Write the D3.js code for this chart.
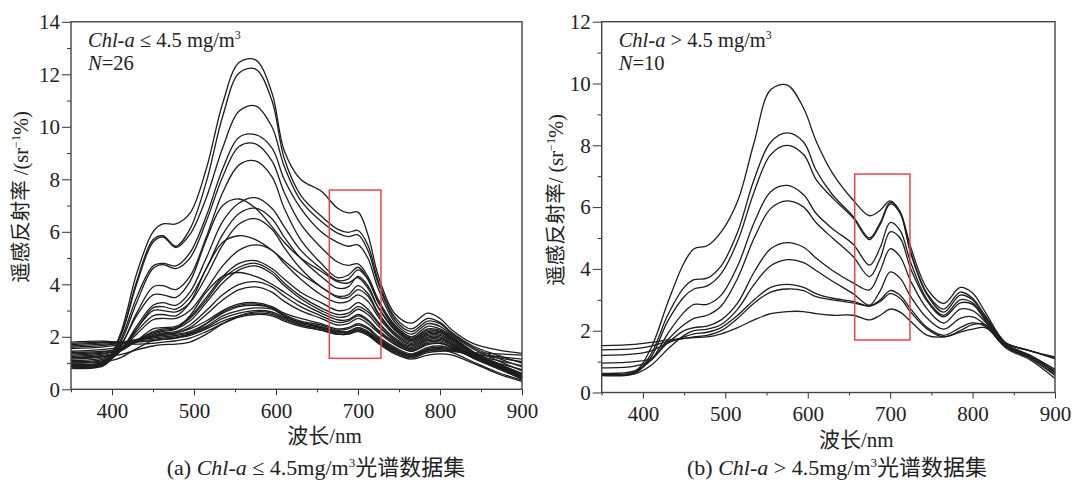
<!DOCTYPE html>
<html>
<head>
<meta charset="utf-8">
<script src="https://cdn.jsdelivr.net/npm/d3@7"></script>
<style>
  body { margin: 0; background: #fff; }
  text { font-family: "Liberation Serif", "Times New Roman", "Noto Sans CJK SC", serif; fill: #222; }
</style>
</head>
<body>
<div id="chart"></div>
<script>
var wavelengths = [350, 390, 410, 430, 450, 462, 478, 495, 515, 535, 555, 575, 595, 610, 630,
                   655, 675, 688, 700, 712, 725, 745, 765, 785, 800, 815, 840, 870, 900];

// (a) Chl-a <= 4.5 mg/m3, 26 spectra
var leftSpectra = [
  [0.85,0.95,2.1,4.4,6.0,6.3,6.3,6.7,8.4,10.9,12.45,12.55,11.3,9.1,8.0,7.55,6.9,6.72,6.75,5.9,4.3,2.88,2.52,2.9,2.7,2.25,1.75,1.5,1.37],
  [0.9,1.0,2.0,4.1,5.7,5.85,5.45,6.1,7.9,10.4,12.05,12.2,11.0,8.8,7.4,6.6,6.1,5.98,6.05,5.5,4.1,2.75,2.3,2.7,2.55,2.15,1.65,1.3,1.0],
  [0.95,1.05,2.0,4.0,5.6,5.8,5.4,5.9,7.3,9.2,10.6,10.8,10.0,8.5,7.2,6.4,5.95,5.82,5.88,5.3,4.0,2.65,2.2,2.6,2.5,2.1,1.6,1.2,0.85],
  [0.9,1.0,1.85,3.5,4.7,4.8,4.7,5.2,6.6,8.4,9.6,9.7,9.2,8.0,6.9,6.0,5.6,5.45,5.5,5.0,3.8,2.55,2.1,2.5,2.4,2.05,1.55,1.1,0.7],
  [0.85,0.95,1.75,3.3,4.6,4.75,4.6,5.0,6.4,8.1,9.25,9.35,8.7,7.5,6.3,5.4,4.85,4.72,4.78,4.3,3.4,2.45,2.0,2.4,2.3,2.0,1.45,1.0,0.6],
  [0.8,0.9,1.6,2.9,3.9,3.95,3.8,4.3,5.8,7.5,8.55,8.7,8.1,6.9,5.7,4.8,4.25,4.35,4.65,4.2,3.3,2.4,1.95,2.3,2.25,1.95,1.4,0.95,0.5],
  [0.95,1.05,1.65,2.8,3.6,3.6,3.5,4.1,5.7,7.0,7.25,6.9,6.2,5.6,5.0,4.5,4.1,4.05,4.25,3.85,3.1,2.3,1.9,2.2,2.2,1.9,1.4,0.95,0.55],
  [0.9,1.0,1.45,2.4,3.2,3.3,3.2,3.7,5.0,6.4,7.1,7.3,6.9,6.2,5.3,4.6,4.15,4.2,4.55,4.2,3.3,2.35,1.9,2.25,2.2,1.95,1.4,0.9,0.5],
  [1.0,1.1,1.45,2.3,3.1,3.15,3.05,3.5,4.6,5.9,6.7,6.9,6.5,5.8,5.0,4.3,3.85,3.9,4.3,3.95,3.1,2.25,1.85,2.15,2.15,1.9,1.35,0.9,0.45],
  [1.05,1.15,1.5,2.3,3.0,3.0,2.95,3.3,4.3,5.5,6.3,6.5,6.1,5.4,4.6,3.9,3.55,3.6,3.95,3.65,2.9,2.15,1.8,2.1,2.1,1.85,1.3,0.85,0.45],
  [1.1,1.2,1.5,2.2,2.8,2.85,2.8,3.3,4.6,5.6,5.85,5.7,5.3,4.9,4.4,3.9,3.5,3.5,3.8,3.55,2.85,2.1,1.75,2.05,2.05,1.8,1.3,0.85,0.4],
  [1.15,1.25,1.5,2.1,2.65,2.7,2.7,3.0,3.8,4.7,5.3,5.5,5.3,4.8,4.2,3.6,3.3,3.35,3.6,3.35,2.75,2.05,1.7,2.0,2.0,1.75,1.25,0.85,0.4],
  [1.2,1.3,1.45,1.85,2.3,2.35,2.4,2.75,3.5,4.3,4.8,4.9,4.6,4.2,3.7,3.3,3.0,3.05,3.3,3.05,2.55,1.95,1.65,1.95,1.95,1.7,1.2,0.8,0.4],
  [1.25,1.35,1.5,1.85,2.2,2.3,2.35,2.7,3.4,4.2,4.65,4.8,4.5,4.05,3.55,3.1,2.85,2.9,3.15,2.95,2.5,1.9,1.6,1.9,1.9,1.7,1.25,0.85,0.45],
  [1.3,1.38,1.5,1.85,2.15,2.25,2.3,2.6,3.3,4.05,4.55,4.7,4.4,3.95,3.45,3.0,2.75,2.8,3.05,2.85,2.4,1.85,1.55,1.85,1.85,1.65,1.2,0.8,0.4],
  [1.4,1.45,1.55,1.85,2.1,2.2,2.3,2.8,3.7,4.3,4.45,4.3,4.0,3.7,3.3,2.9,2.65,2.65,2.85,2.65,2.25,1.8,1.5,1.8,1.8,1.6,1.2,0.85,0.45],
  [1.35,1.42,1.55,1.8,2.05,2.15,2.2,2.45,3.0,3.6,4.0,4.1,3.9,3.55,3.15,2.8,2.55,2.6,2.8,2.6,2.2,1.75,1.45,1.75,1.75,1.6,1.25,0.9,0.5],
  [1.45,1.52,1.62,1.85,2.0,2.1,2.15,2.35,2.85,3.4,3.8,3.9,3.7,3.35,3.0,2.7,2.45,2.5,2.7,2.5,2.15,1.7,1.45,1.7,1.75,1.6,1.25,0.9,0.5],
  [1.55,1.62,1.7,1.88,2.02,2.1,2.15,2.3,2.6,3.0,3.25,3.3,3.15,2.9,2.7,2.5,2.3,2.35,2.5,2.35,2.0,1.6,1.35,1.6,1.65,1.55,1.25,0.95,0.6],
  [1.6,1.67,1.75,1.9,2.0,2.05,2.1,2.2,2.5,2.9,3.15,3.2,3.1,2.85,2.6,2.45,2.25,2.3,2.45,2.3,1.95,1.55,1.3,1.55,1.6,1.5,1.25,1.0,0.75],
  [1.65,1.72,1.78,1.88,1.95,2.0,2.05,2.15,2.4,2.8,3.0,3.1,3.05,2.8,2.55,2.4,2.2,2.2,2.35,2.2,1.9,1.5,1.3,1.5,1.55,1.5,1.3,1.1,0.9],
  [1.7,1.77,1.8,1.85,1.9,1.95,2.0,2.1,2.35,2.7,2.9,3.0,2.95,2.75,2.5,2.35,2.15,2.2,2.3,2.15,1.85,1.5,1.3,1.5,1.55,1.5,1.35,1.2,1.05],
  [1.75,1.8,1.8,1.8,1.85,1.9,1.95,2.05,2.3,2.6,2.8,2.9,2.85,2.65,2.45,2.3,2.1,2.15,2.25,2.1,1.8,1.45,1.25,1.45,1.5,1.45,1.35,1.25,1.15],
  [1.8,1.83,1.78,1.72,1.75,1.8,1.85,1.95,2.2,2.5,2.75,2.85,2.8,2.6,2.4,2.25,2.1,2.1,2.2,2.05,1.75,1.4,1.2,1.4,1.45,1.45,1.4,1.35,1.3],
  [1.2,1.25,1.32,1.5,1.65,1.7,1.72,1.8,2.1,2.5,2.8,2.95,2.9,2.7,2.45,2.25,2.1,2.1,2.25,2.1,1.75,1.35,1.15,1.3,1.35,1.3,1.0,0.6,0.3],
  [1.0,1.05,1.2,1.55,1.85,1.9,1.95,2.1,2.5,2.95,3.2,3.25,3.1,2.8,2.55,2.35,2.2,2.2,2.35,2.2,1.85,1.45,1.25,1.45,1.5,1.4,1.05,0.65,0.35]
];

// (b) Chl-a > 4.5 mg/m3, 10 spectra
var rightSpectra = [
  [0.6,0.68,1.45,2.9,4.2,4.65,4.75,5.2,6.2,8.1,9.8,9.95,9.2,8.15,7.1,6.23,5.72,5.9,6.2,5.85,4.7,3.35,2.88,3.4,3.22,2.62,1.62,1.35,1.15],
  [0.58,0.65,1.25,2.5,3.4,3.65,3.7,4.1,5.2,6.9,8.1,8.4,8.1,7.2,6.4,5.7,5.0,5.5,6.15,5.85,4.55,3.2,2.7,3.25,3.05,2.5,1.6,1.2,0.75],
  [0.55,0.62,1.15,2.3,3.1,3.35,3.45,3.85,4.9,6.5,7.7,8.0,7.7,6.9,6.3,5.65,4.95,5.45,6.1,5.8,4.5,3.15,2.6,3.15,3.0,2.45,1.55,1.15,0.7],
  [0.62,0.7,1.05,1.9,2.6,2.85,2.85,3.15,4.1,5.5,6.5,6.7,6.4,5.8,5.3,4.8,4.12,4.7,5.5,5.25,4.2,3.0,2.5,3.0,2.9,2.4,1.55,1.15,0.65],
  [0.8,0.85,1.05,1.7,2.2,2.4,2.5,2.8,3.7,5.0,5.95,6.2,6.0,5.5,5.0,4.4,3.75,4.35,5.2,5.0,4.0,2.95,2.45,2.9,2.85,2.35,1.5,1.1,0.6],
  [0.95,1.0,1.1,1.6,2.0,2.1,2.15,2.35,2.9,3.9,4.65,4.85,4.7,4.35,3.95,3.55,3.32,3.95,4.65,4.4,3.6,2.7,2.25,2.7,2.65,2.3,1.5,1.1,0.55],
  [0.57,0.6,0.88,1.4,1.85,2.0,2.05,2.2,2.7,3.5,4.1,4.3,4.2,3.95,3.6,3.2,2.83,3.3,3.9,3.7,3.1,2.4,2.05,2.4,2.45,2.2,1.45,1.05,0.45],
  [1.2,1.25,1.35,1.6,1.8,1.9,1.95,2.1,2.5,3.0,3.4,3.5,3.4,3.2,3.05,2.95,2.8,3.0,3.3,3.15,2.7,2.1,1.85,2.1,2.25,2.15,1.5,1.2,0.65],
  [1.38,1.42,1.5,1.65,1.75,1.8,1.85,2.0,2.4,2.9,3.25,3.35,3.3,3.1,3.0,2.9,2.8,2.95,3.2,3.05,2.6,2.05,1.8,2.0,2.2,2.2,1.6,1.35,1.1],
  [1.52,1.56,1.62,1.7,1.75,1.78,1.8,1.9,2.1,2.35,2.55,2.62,2.62,2.55,2.5,2.5,2.35,2.5,2.7,2.6,2.3,1.85,1.8,1.95,2.05,2.1,1.6,1.35,1.1]
];

// ticks
var xTicks = [400, 500, 600, 700, 800, 900];
var xMinorTicks = [350, 450, 550, 650, 750, 850];
var leftYTicks = [0, 2, 4, 6, 8, 10, 12, 14];
var rightYTicks = [0, 2, 4, 6, 8, 10, 12];

// red highlight boxes [w0, w1, v0, v1]
var leftBox = [665, 728, 1.18, 7.59];
var rightBox = [657, 724, 1.70, 7.07];

var svg = d3.select("#chart")
  .append("svg")
    .attr("width", 1075)
    .attr("height", 482);

function drawPanel(p) {
  var x = d3.scaleLinear().domain([350, 900]).range([p.x0, p.x1]);
  var y = d3.scaleLinear().domain([0, p.ymax]).range([p.y0, p.y1]);
  var g = svg.append("g");

  // minor ticks
  var yMinor = d3.range(1, p.ymax, 2);
  g.append("g")
    .attr("transform", "translate(0," + p.y0 + ")")
    .call(d3.axisBottom(x).tickValues(xMinorTicks).tickSize(3).tickFormat(""));
  g.append("g")
    .attr("transform", "translate(" + p.x0 + ",0)")
    .call(d3.axisLeft(y).tickValues(yMinor).tickSize(4).tickFormat(""));

  // major ticks
  g.append("g")
    .attr("transform", "translate(0," + p.y0 + ")")
    .call(d3.axisBottom(x).tickValues(xTicks).tickSize(6).tickPadding(8));
  g.append("g")
    .attr("transform", "translate(" + p.x0 + ",0)")
    .call(d3.axisLeft(y).tickValues(p.yTicks).tickSize(9).tickPadding(2));

  g.selectAll("g").attr("font-family", null).attr("font-size", null);
  g.selectAll(".domain").remove();
  g.selectAll(".tick line").attr("stroke", "#333").attr("stroke-width", 1);
  g.selectAll(".tick text")
    .style("font-family", "'Liberation Serif', 'Times New Roman', serif")
    .style("font-size", "21px")
    .attr("fill", "#222");

  // spectra
  var line = d3.line()
    .x(function(d, i) { return x(wavelengths[i]); })
    .y(function(d) { return y(d); })
    .curve(d3.curveCatmullRom.alpha(0.5));

  g.append("g")
    .selectAll("path")
    .data(p.spectra)
    .enter()
    .append("path")
      .attr("d", line)
      .attr("fill", "none")
      .attr("stroke", "#1e1e1e")
      .attr("stroke-width", 1.3);

  // red box
  g.append("rect")
    .attr("x", x(p.box[0]))
    .attr("y", y(p.box[3]))
    .attr("width", x(p.box[1]) - x(p.box[0]))
    .attr("height", y(p.box[2]) - y(p.box[3]))
    .attr("fill", "none")
    .attr("stroke", "#e8474c")
    .attr("stroke-width", 1.5);

  // frame
  g.append("rect")
    .attr("x", p.x0)
    .attr("y", p.y1)
    .attr("width", p.x1 - p.x0)
    .attr("height", p.y0 - p.y1)
    .attr("fill", "none")
    .attr("stroke", "#444")
    .attr("stroke-width", 1.4);

  // annotation
  var ann = g.append("text")
    .attr("x", p.x0 + 17)
    .attr("y", 47)
    .style("font-size", "20.5px");
  ann.append("tspan").style("font-style", "italic").text("Chl-a");
  ann.append("tspan").text(p.rel + "4.5 mg/m");
  ann.append("tspan").attr("dy", -8).style("font-size", "12px").text("3");
  g.append("text")
    .attr("x", p.x0 + 17)
    .attr("y", 69.5)
    .style("font-size", "20.5px")
    .html("<tspan font-style='italic'>N</tspan>=" + p.n);

  // x title
  g.append("text")
    .attr("x", (p.x0 + p.x1) / 2 + 28)
    .attr("y", p.y0 + 54)
    .attr("text-anchor", "middle")
    .style("font-size", "21px")
    .text("波长/nm");

  // y title
  var yt = g.append("text")
    .attr("transform", "translate(" + p.ytx + "," + p.yty + ") rotate(-90)")
    .attr("text-anchor", "middle")
    .style("font-size", "20.5px");
  yt.append("tspan").text(p.ylab);
  yt.append("tspan").attr("dy", -8).style("font-size", "12px").text("−1");
  yt.append("tspan").attr("dy", 8).text("%)");

  // caption
  var cap = g.append("text")
    .attr("x", p.capx)
    .attr("y", 475)
    .attr("text-anchor", "middle")
    .style("font-size", "22px");
  cap.append("tspan").text(p.tag + " ");
  cap.append("tspan").style("font-style", "italic").text("Chl-a");
  cap.append("tspan").text(p.rel + "4.5mg/m");
  cap.append("tspan").attr("dy", -8).style("font-size", "13px").text("3");
  cap.append("tspan").attr("dy", 8).text("光谱数据集");
}

drawPanel({
  x0: 71, x1: 522, y0: 389.3, y1: 21.8, ymax: 14, yTicks: leftYTicks,
  spectra: leftSpectra, box: leftBox, rel: " ≤ ", n: 26,
  ylab: "遥感反射率 /(sr", ytx: 28, yty: 197,
  tag: "(a)", capx: 316
});

drawPanel({
  x0: 601.7, x1: 1055, y0: 392.5, y1: 21.7, ymax: 12, yTicks: rightYTicks,
  spectra: rightSpectra, box: rightBox, rel: " > ", n: 10,
  ylab: "遥感反射率/ (sr", ytx: 563, yty: 200,
  tag: "(b)", capx: 837
});
</script>
</body>
</html>
